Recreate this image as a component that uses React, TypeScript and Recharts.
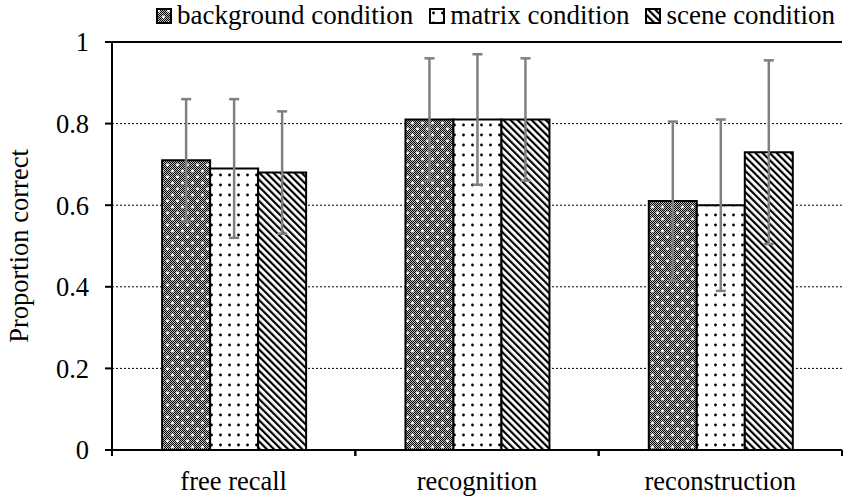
import { BarChart, Bar, XAxis, YAxis, CartesianGrid, ErrorBar, Legend, ReferenceLine } from 'recharts';

const categories = ['free recall', 'recognition', 'reconstruction'];
const seriesNames = ['background condition', 'matrix condition', 'scene condition'];
const background = [0.71, 0.81, 0.61];
const matrix = [0.69, 0.81, 0.6];
const scene = [0.68, 0.81, 0.73];
const backgroundErr = [0.15, 0.15, 0.195];
const matrixErr = [0.17, 0.16, 0.21];
const sceneErr = [0.15, 0.15, 0.225];
const yTicks = [0, 0.2, 0.4, 0.6, 0.8, 1];

const data = categories.map((name, i) => ({
  name,
  background: background[i],
  matrix: matrix[i],
  scene: scene[i],
  backgroundErr: backgroundErr[i],
  matrixErr: matrixErr[i],
  sceneErr: sceneErr[i],
}));

const W = 851;
const H = 503;
const MARGIN = { top: 42, right: 9, bottom: 0, left: 0 };
const Y_W = 112;
const BAND = (W - MARGIN.left - MARGIN.right - Y_W) / categories.length;
const FONT = "'Liberation Serif', 'DejaVu Serif', serif";
const fills = ['url(#bgPat)', 'url(#mxPat)', 'url(#scPat)'];

const CategoryTick = (props: any) => {
  const { x, y, payload } = props;
  return (
    <g>
      <line x1={x - BAND / 2} x2={x - BAND / 2} y1={y} y2={y + 6} stroke="#000" strokeWidth={2} />
      <line x1={x + BAND / 2} x2={x + BAND / 2} y1={y} y2={y + 6} stroke="#000" strokeWidth={2} />
      <text x={x} y={y + 40} textAnchor="middle" fontSize={26.5} fontFamily={FONT} fill="#000">
        {payload.value}
      </text>
    </g>
  );
};

const LegendContent = () => (
  <div
    style={{
      display: 'flex',
      alignItems: 'center',
      whiteSpace: 'nowrap',
      fontFamily: FONT,
      fontSize: 27,
      color: '#000',
    }}
  >
    {seriesNames.map((s, i) => (
      <div key={s} style={{ display: 'flex', alignItems: 'center', flexShrink: 0, marginRight: 16 }}>
        <svg width={16} height={16} style={{ marginRight: 5, flexShrink: 0 }}>
          <rect x={1} y={1} width={14} height={14} fill={fills[i]} stroke="#000" strokeWidth={2} />
        </svg>
        <span>{s}</span>
      </div>
    ))}
  </div>
);

export default function App() {
  return (
    <div style={{ position: 'absolute', left: 0, top: 0, width: W, height: H, background: '#fff', fontFamily: FONT }}>
      <BarChart
        width={W}
        height={H}
        data={data}
        margin={MARGIN}
        barCategoryGap="20.6%"
        barGap={0}
        style={{ fontFamily: FONT }}
      >
        <defs>
          <pattern id="checker" width={2} height={2} patternUnits="userSpaceOnUse">
            <rect width={2} height={2} fill="#fff" />
            <rect x={0} y={0} width={1} height={1} fill="#000" />
            <rect x={1} y={1} width={1} height={1} fill="#000" />
          </pattern>
          <pattern id="bgPat" width={10} height={12} patternUnits="userSpaceOnUse">
            <rect width={10} height={12} fill="url(#checker)" />
            <rect width={10} height={12} fill="#000" opacity={0.25} />
            <circle cx={2.5} cy={3} r={1.4} fill="#fff" />
            <circle cx={7.5} cy={9} r={1.4} fill="#fff" />
          </pattern>
          <pattern id="mxPat" width={9} height={10} patternUnits="userSpaceOnUse">
            <rect width={9} height={10} fill="#fff" />
            <circle cx={4.5} cy={5} r={1.4} fill="#000" />
          </pattern>
          <pattern id="scPat" width={5} height={10} patternUnits="userSpaceOnUse" patternTransform="rotate(-45)">
            <rect width={5} height={10} fill="#fff" />
            <rect x={0} y={0} width={2.2} height={10} fill="#000" />
          </pattern>
        </defs>
        <CartesianGrid vertical={false} stroke="#000" strokeDasharray="2 2" />
        <XAxis
          dataKey="name"
          height={53}
          tickLine={false}
          tickSize={0}
          tickMargin={0}
          axisLine={{ stroke: '#000', strokeWidth: 2 }}
          tick={<CategoryTick />}
          interval={0}
        />
        <YAxis
          width={Y_W}
          domain={[0, 1]}
          ticks={yTicks}
          tickFormatter={(v: number) => String(v)}
          tickSize={7}
          tickMargin={16}
          tick={{ fill: '#000', fontSize: 26.5, fontFamily: FONT }}
          tickLine={{ stroke: '#000', strokeWidth: 2 }}
          axisLine={{ stroke: '#000', strokeWidth: 2 }}
          label={{
            value: 'Proportion correct',
            angle: -90,
            position: 'insideLeft',
            offset: 19,
            style: { textAnchor: 'middle', fill: '#000', fontSize: 26.5, fontFamily: FONT },
          }}
        />
        <YAxis
          yAxisId="right"
          orientation="right"
          width={0}
          domain={[0, 1]}
          tick={false}
          tickLine={false}
          axisLine={{ stroke: '#000', strokeWidth: 2 }}
        />
        <ReferenceLine y={1} stroke="#000" strokeWidth={2} />
        <Legend
          verticalAlign="middle"
          align="center"
          wrapperStyle={{ top: 0, left: 156, width: 690 }}
          content={<LegendContent />}
        />
        <Bar dataKey="background" name={seriesNames[0]} fill={fills[0]} stroke="#000" strokeWidth={2} isAnimationActive={false}>
          <ErrorBar dataKey="backgroundErr" width={5} stroke="#7f7f7f" strokeWidth={2.5} />
        </Bar>
        <Bar dataKey="matrix" name={seriesNames[1]} fill={fills[1]} stroke="#000" strokeWidth={2} isAnimationActive={false}>
          <ErrorBar dataKey="matrixErr" width={5} stroke="#7f7f7f" strokeWidth={2.5} />
        </Bar>
        <Bar dataKey="scene" name={seriesNames[2]} fill={fills[2]} stroke="#000" strokeWidth={2} isAnimationActive={false}>
          <ErrorBar dataKey="sceneErr" width={5} stroke="#7f7f7f" strokeWidth={2.5} />
        </Bar>
      </BarChart>
    </div>
  );
}
